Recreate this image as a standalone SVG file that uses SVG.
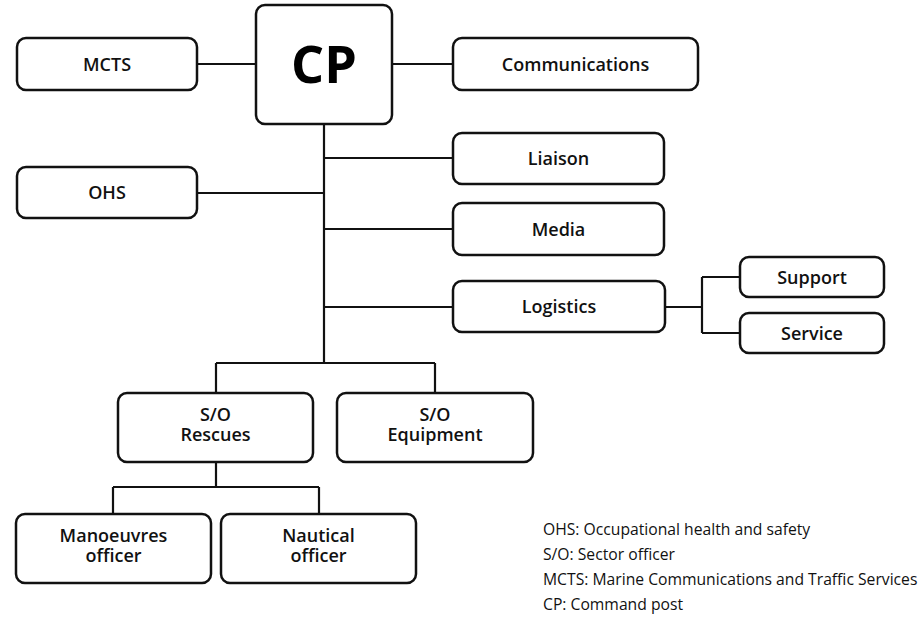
<svg xmlns="http://www.w3.org/2000/svg" width="924" height="628" viewBox="0 0 924 628">
<style>
.box{fill:#fff;stroke:#111;stroke-width:2.5}
.lbl{font-family:"Open Sans","Noto Sans",sans-serif;font-weight:600;font-size:18px;fill:#111;text-anchor:middle}
.cp{font-family:"Open Sans","Noto Sans",sans-serif;font-weight:700;font-size:52px;fill:#000;text-anchor:middle}
.conn{fill:none;stroke:#111;stroke-width:2.2}
.leg{font-family:"Open Sans","Noto Sans",sans-serif;font-size:15.7px;fill:#111}
</style>
<rect width="924" height="628" fill="#fff"/>
<g id="connectors">
<path class="conn" d="M197 64H256M392 64H453M324 124V363M324 158H453M197 193H324M324 229H453M324 307H453M665 307H702M702 277V333M702 277H740M702 333H740M216 363H435M216 363V393M435 363V393M216 462V487M113 487H319M113 487V514M319 487V514"/>
</g>
<g id="cp"><rect class="box" x="256" y="5" width="136" height="119" rx="9"/><text class="cp" x="324" y="83">CP</text></g>
<g id="mcts"><rect class="box" x="17" y="38" width="180" height="52" rx="9"/><text class="lbl" x="107" y="70.5">MCTS</text></g>
<g id="communications"><rect class="box" x="453" y="38" width="245" height="52" rx="9"/><text class="lbl" x="575.5" y="70.5">Communications</text></g>
<g id="liaison"><rect class="box" x="453" y="133" width="211" height="51" rx="9"/><text class="lbl" x="558.5" y="164.5">Liaison</text></g>
<g id="ohs"><rect class="box" x="17" y="167" width="180" height="51" rx="9"/><text class="lbl" x="107" y="199">OHS</text></g>
<g id="media"><rect class="box" x="453" y="203" width="211" height="52" rx="9"/><text class="lbl" x="558.5" y="235.5">Media</text></g>
<g id="logistics"><rect class="box" x="453" y="281" width="212" height="51" rx="9"/><text class="lbl" x="559" y="313">Logistics</text></g>
<g id="support"><rect class="box" x="740" y="257" width="144" height="40" rx="9"/><text class="lbl" x="812" y="283.5">Support</text></g>
<g id="service"><rect class="box" x="740" y="313" width="144" height="40" rx="9"/><text class="lbl" x="812" y="339.5">Service</text></g>
<g id="so-rescues"><rect class="box" x="118" y="393" width="195" height="69" rx="9"/><text class="lbl"><tspan x="215.5" y="421">S/O</tspan><tspan x="215.5" y="441">Rescues</tspan></text></g>
<g id="so-equipment"><rect class="box" x="337" y="393" width="196" height="69" rx="9"/><text class="lbl"><tspan x="435" y="421">S/O</tspan><tspan x="435" y="441">Equipment</tspan></text></g>
<g id="manoeuvres"><rect class="box" x="16" y="514" width="195" height="69" rx="9"/><text class="lbl"><tspan x="113.5" y="542">Manoeuvres</tspan><tspan x="113.5" y="562">officer</tspan></text></g>
<g id="nautical"><rect class="box" x="221" y="514" width="195" height="69" rx="9"/><text class="lbl"><tspan x="318.5" y="542">Nautical</tspan><tspan x="318.5" y="562">officer</tspan></text></g>
<g id="legend">
<text class="leg" x="543" y="535">OHS: Occupational health and safety</text>
<text class="leg" x="543" y="560">S/O: Sector officer</text>
<text class="leg" x="543" y="585">MCTS: Marine Communications and Traffic Services</text>
<text class="leg" x="543" y="610">CP: Command post</text>
</g>
</svg>
